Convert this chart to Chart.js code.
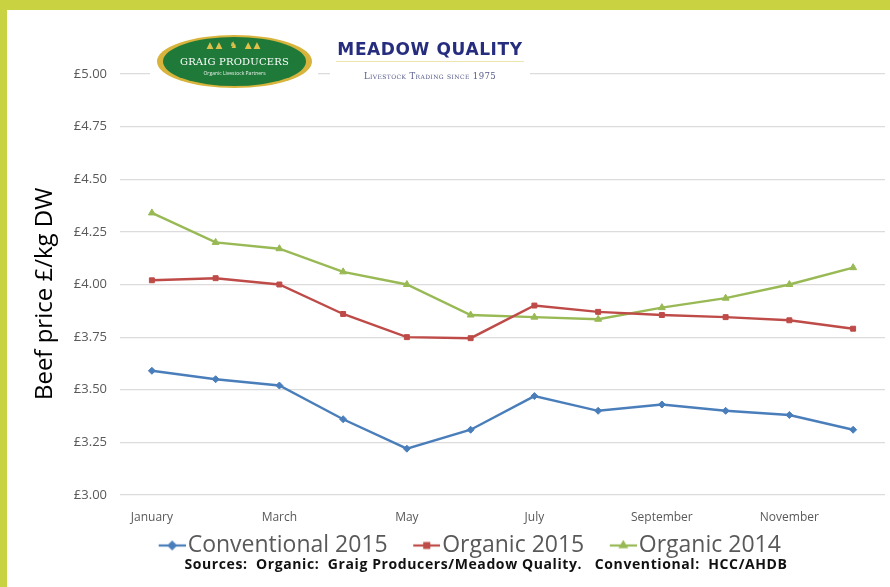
<!DOCTYPE html>
<html>
<head>
<meta charset="utf-8">
<script src="https://cdn.jsdelivr.net/npm/chart.js@4"></script>
<style>
  html, body { margin: 0; padding: 0; }
  body { width: 890px; height: 587px; background: #c9d240; position: relative; overflow: hidden; font-family: "Open Sans", sans-serif; }
  #frame { position: absolute; left: 7px; top: 10px; width: 883px; height: 577px; background: #fff; }
  #logo { position: absolute; left: 150px; top: 30px; width: 168px; height: 64px; background: #fff; }
  #oval { position: absolute; left: 7px; top: 5px; width: 155px; height: 53px; border-radius: 50%; background: #d8b43c; }
  #ovalIn { position: absolute; left: 6px; top: 2px; width: 143px; height: 49px; border-radius: 50%; background: #1f7a3a; color: #fff; text-align: center; }
  #ovalIn .t1 { position: absolute; left: 0; right: 0; top: 19px; font: 10px "DejaVu Serif", serif; letter-spacing: 0.2px; }
  #ovalIn .t2 { position: absolute; left: 0; right: 0; top: 33px; font: 5px "Open Sans", sans-serif; color: #e6efe6; }
  #ovalIn .crown { position: absolute; left: 0; right: 0; top: 3px; font: bold 9px "DejaVu Sans", sans-serif; color: #e0c04a; letter-spacing: 2px; }
  #mq { position: absolute; left: 330px; top: 34px; width: 200px; height: 52px; background: #fff; text-align: center; }
  #mq .t1 { font: bold 17px "DejaVu Sans", sans-serif; color: #272d7e; letter-spacing: 0.6px; margin-top: 5px; }
  #mq .rule { height: 1px; background: #ece6ae; margin: 2px 6px 0 6px; }
  #mq .t2 { font: 8.5px "DejaVu Serif", serif; color: #555a88; margin-top: 9px; font-variant: small-caps; letter-spacing: 0.4px; }
  #src { position: absolute; left: 0; width: 972px; top: 554px; text-align: center; font: bold 14px "Open Sans", sans-serif; letter-spacing: 0.6px; color: #111; white-space: pre; }
</style>
</head>
<body>
<div id="frame"><canvas id="chart"></canvas></div>
<div id="logo">
  <div id="oval"><div id="ovalIn">
    <div class="crown">▲▲ ♞ ▲▲</div>
    <div class="t1">GRAIG PRODUCERS</div>
    <div class="t2">Organic Livestock Partners</div>
  </div></div>
</div>
<div id="mq">
  <div class="t1">MEADOW QUALITY</div>
  <div class="rule"></div>
  <div class="t2">Livestock Trading since 1975</div>
</div>
<div id="src">Sources:  Organic:  Graig Producers/Meadow Quality.   Conventional:  HCC/AHDB</div>
<script>
// months on the x axis (only every other one is labelled in the original)
const months = ['January', 'February', 'March', 'April', 'May', 'June',
                'July', 'August', 'September', 'October', 'November', 'December'];

// beef price £/kg DW
const conventional2015 = [3.59, 3.55, 3.52, 3.36, 3.22, 3.31, 3.47, 3.40, 3.43, 3.40, 3.38, 3.31];
const organic2015      = [4.02, 4.03, 4.00, 3.86, 3.75, 3.745, 3.90, 3.87, 3.855, 3.845, 3.83, 3.79];
const organic2014      = [4.34, 4.20, 4.17, 4.06, 4.00, 3.855, 3.845, 3.835, 3.89, 3.935, 4.00, 4.08];

const seriesNames = ['Conventional 2015', 'Organic 2015', 'Organic 2014'];
const seriesColors = ['#4a7ebb', '#be4b48', '#98b954'];
const markerStyles = ['rectRot', 'rect', 'triangle'];

// "line with marker" images for the legend; the left half is left blank so
// the text sits right next to the line, as in the original
function legendMarker(color, style) {
    const c = document.createElement('canvas');
    c.width = 56; c.height = 12;
    const ctx = c.getContext('2d');
    ctx.strokeStyle = color;
    ctx.lineWidth = 2.2;
    ctx.beginPath();
    ctx.moveTo(29, 6); ctx.lineTo(56, 6);
    ctx.stroke();
    ctx.fillStyle = color;
    Chart.helpers.drawPoint(ctx, { pointStyle: style, radius: 3.5, borderWidth: 1 }, 42.5, 6);
    ctx.fill();
    return c;
}

const legendImgs = seriesColors.map((col, i) => legendMarker(col, markerStyles[i]));

const datasets = [conventional2015, organic2015, organic2014].map((vals, i) => ({
    label: seriesNames[i],
    data: vals,
    borderColor: seriesColors[i],
    backgroundColor: seriesColors[i],
    borderWidth: 2.4,
    pointStyle: markerStyles[i],
    pointRadius: i === 2 ? 4 : 3.5,
    pointBorderWidth: 1,
    tension: 0
}));

new Chart(document.getElementById('chart'), {
    type: 'line',
    data: { labels: months, datasets: datasets },
    options: {
        responsive: true,
        maintainAspectRatio: false,
        animation: false,
        layout: { padding: { left: 24, top: 64, right: 1, bottom: 20 } },
        plugins: {
            tooltip: { enabled: false },
            legend: {
                position: 'bottom',
                labels: {
                    color: '#595959',
                    font: { family: 'Open Sans', size: 23 },
                    usePointStyle: true,
                    pointStyleWidth: 37,
                    padding: 6,
                    generateLabels: chart => {
                        const items = Chart.defaults.plugins.legend.labels.generateLabels(chart);
                        items.forEach((it, i) => { it.pointStyle = legendImgs[i]; });
                        return items;
                    }
                }
            }
        },
        scales: {
            x: {
                offset: true,
                grid: { display: false, drawTicks: false },
                border: { display: false },
                afterFit: s => { s.height = 33; },
                ticks: {
                    autoSkip: false,
                    maxRotation: 0,
                    padding: 15,
                    color: '#595959',
                    font: { family: 'Open Sans', size: 12 },
                    callback: (v, i) => (i % 2 === 0 ? months[i] : '')
                }
            },
            y: {
                min: 3,
                max: 5,
                afterFit: s => { s.width = 89; },
                grid: { color: '#dcdcdc', drawTicks: false, lineWidth: 1.2 },
                border: { display: false },
                title: {
                    display: true,
                    text: 'Beef price £/kg DW   ',
                    color: '#000',
                    font: { family: 'Open Sans', size: 24 },
                    padding: { top: 0, bottom: 0 }
                },
                ticks: {
                    stepSize: 0.25,
                    padding: 13,
                    color: '#595959',
                    font: { family: 'Open Sans', size: 13 },
                    callback: v => '£' + v.toFixed(2)
                }
            }
        }
    }
});
</script>
</body>
</html>
